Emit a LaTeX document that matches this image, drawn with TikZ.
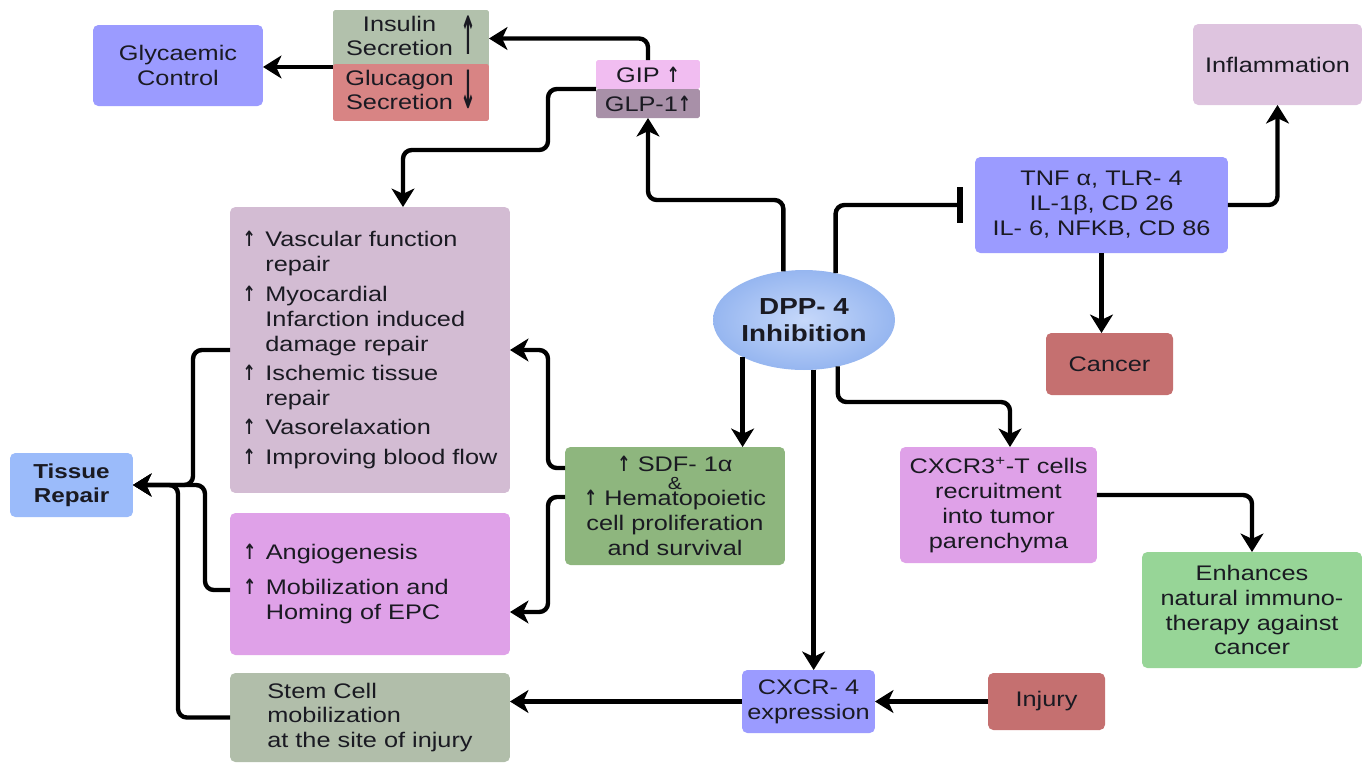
\documentclass[tikz,border=0pt]{standalone}
\usepackage{fontspec}
\setmainfont{Liberation Sans}[FakeStretch=1.2]
\newfontfamily\arrfont{DejaVu Sans}
\usetikzlibrary{arrows.meta,shapes.geometric}
\definecolor{cglyc}{HTML}{9B9BFF}
\definecolor{cins}{HTML}{B2C1AC}
\definecolor{cglu}{HTML}{D88484}
\definecolor{cgip}{HTML}{F1BDF1}
\definecolor{cglp}{HTML}{A890A8}
\definecolor{cinfl}{HTML}{DEC4DF}
\definecolor{ccan}{HTML}{C57070}
\definecolor{cvas}{HTML}{D3BCD3}
\definecolor{cang}{HTML}{DFA1E8}
\definecolor{cstem}{HTML}{B1BEAA}
\definecolor{ctis}{HTML}{9BBBFA}
\definecolor{csdf}{HTML}{8EB67E}
\definecolor{cenh}{HTML}{97D597}
\definecolor{cdppin}{HTML}{C6D8FA}
\definecolor{cdppout}{HTML}{96B6F0}
\definecolor{ctxt}{HTML}{1A1A22}
\newcommand{\uparr}{\scalebox{0.75}[1]{\arrfont\bfseries ↑}}
\newcommand{\up}{\makebox[13pt][l]{\uparr}}
\newcommand{\ind}{\hspace*{13pt}}

\begin{document}
\begin{tikzpicture}[x=0.02cm,y=-0.02cm,
  box/.style={rectangle,rounded corners=3pt,outer sep=0pt,inner sep=2pt,align=center,text=ctxt,font=\fontsize{12}{14.2}\selectfont},
  arr/.style={line width=2.5pt,rounded corners=5pt,-{Stealth[length=10.5pt,width=13pt,inset=3pt]}},
  blk/.style={line width=2.5pt,rounded corners=5pt,-{Bar[width=20pt,line width=3.5pt]},shorten >=0.24cm}]
\useasboundingbox (0,0) rectangle (1366,762);
\node[box,fill=cglyc,minimum width=3.4cm,minimum height=1.62cm] (gly) at (178,65.5) {Glycaemic\\Control};
\node[box,fill=cins,minimum width=3.12cm,minimum height=1.06cm,rounded corners=1pt] (ins) at (411,38.5) {\begin{tabular}{@{}c@{}}Insulin\\Secretion\end{tabular}\hspace{4pt}\raisebox{-6pt}{\scalebox{0.9}[2.5]{\arrfont\bfseries ↑}}};
\node[box,fill=cglu,minimum width=3.12cm,minimum height=1.1cm,rounded corners=1pt] (glu) at (411,92.5) {\begin{tabular}{@{}c@{}}Glucagon\\Secretion\end{tabular}\hspace{4pt}\raisebox{-6pt}{\scalebox{0.9}[2.5]{\arrfont\bfseries ↓}}};
\node[box,fill=cgip,minimum width=2.08cm,minimum height=0.58cm,rounded corners=1pt] (gip) at (648,74.5) {GIP \uparr};
\node[box,fill=cglp,minimum width=2.08cm,minimum height=0.58cm,rounded corners=1pt] (glp) at (648,103.5) {GLP-1\uparr};
\node[box,fill=cinfl,minimum width=3.38cm,minimum height=1.62cm] (infl) at (1277.5,64.5) {Inflammation};
\node[box,fill=cglyc,minimum width=5.06cm,minimum height=1.92cm] (tnf) at (1101.5,205) {TNF α, TLR- 4\\IL-1β, CD 26\\IL- 6, NFKB, CD 86};
\node[box,fill=ccan,minimum width=2.54cm,minimum height=1.24cm] (can) at (1109.5,364) {Cancer};
\node[ellipse,minimum width=3.64cm,minimum height=2.0cm,inner sep=0pt,outer sep=0pt,shading=radial,inner color=cdppin,outer color=cdppout,align=center,text=ctxt,font=\bfseries\fontsize{13.2}{15}\selectfont] (dpp) at (804,320) {DPP- 4\\Inhibition};
\node[box,fill=cvas,minimum width=5.6cm,minimum height=5.72cm,align=left] (vas) at (370,350) {\up Vascular function\\\ind repair\\[2.5pt]\up Myocardial\\\ind Infarction induced\\\ind damage repair\\[2.5pt]\up Ischemic tissue\\\ind repair\\[2.5pt]\up Vasorelaxation\\[2.5pt]\up Improving blood flow};
\node[box,fill=cang,minimum width=5.6cm,minimum height=2.84cm,inner xsep=0.26cm,text width=5.08cm,align=left] (ang) at (370,584) {\up Angiogenesis\\[5.5pt]\up Mobilization and\\\ind Homing of EPC};
\node[box,fill=cstem,minimum width=5.6cm,minimum height=1.78cm,align=left] (stem) at (370,717.5) {Stem Cell\\mobilization\\at the site of injury};
\node[box,fill=ctis,minimum width=2.46cm,minimum height=1.28cm,font=\bfseries\fontsize{11.5}{13.5}\selectfont] (tis) at (71.5,485) {Tissue\\Repair};
\node[box,fill=csdf,minimum width=4.4cm,minimum height=2.36cm] (sdf) at (675,506) {\uparr\ SDF- 1α\\[-4pt]{\fontsize{10}{10}\selectfont\&}\\[-5pt]\uparr\ Hematopoietic\\cell proliferation\\and survival};
\node[box,fill=cang,minimum width=3.94cm,minimum height=2.32cm] (cx3) at (998.5,505) {CXCR3\textsuperscript{+}-T cells\\recruitment\\into tumor\\parenchyma};
\node[box,fill=cenh,minimum width=4.4cm,minimum height=2.32cm] (enh) at (1252,610) {Enhances\\natural immuno-\\therapy against\\cancer};
\node[box,fill=cglyc,minimum width=2.66cm,minimum height=1.26cm] (cx4) at (808.5,701.5) {CXCR- 4\\expression};
\node[box,fill=ccan,minimum width=2.34cm,minimum height=1.14cm] (inj) at (1046.5,701.5) {Injury};
\coordinate (j1) at (193,485);
\coordinate (j2) at (205,485);
\coordinate (j3) at (178,485);
\draw[arr] (gip.north) |- (ins.east);
\draw[arr] (ins.south west) -- (gly.east |- ins.south west);
\draw[arr] (glp.north west) -| (548,150) -| ([xshift=0.66cm]vas.north);
\draw[arr] (dpp.113) |- (648,200) -- (glp.south);
\draw[blk] (dpp.56) |- (tnf.west);
\draw[arr] (tnf.east) -| (infl.south);
\draw[arr] (tnf.south) -- (tnf.south |- can.north);
\draw[arr] (dpp.306) |- ([xshift=0.23cm,yshift=0.9cm]cx3.north) -- ([xshift=0.23cm]cx3.north);
\draw[arr] (dpp.211) -- (dpp.211 |- sdf.north);
\draw[arr] (dpp.281) -- (dpp.281 |- cx4.north);
\draw[arr] ([yshift=0.76cm]sdf.west) -| (548,350) -- (vas.east);
\draw[arr] ([yshift=0.18cm]sdf.west) -| (548,612) -- ([yshift=-0.56cm]ang.east);
\draw[arr] ([yshift=0.2cm]cx3.east) -| (enh.north);
\draw[arr] (inj.west) -- (cx4.east);
\draw[arr] (cx4.west) -- (cx4.west -| stem.east);
\draw[arr] (vas.west) -| (j1) -- (tis.east);
\draw[arr] ([yshift=-0.12cm]ang.west) -| (j2) -- (tis.east);
\draw[arr] (stem.west) -| (j3) -- (tis.east);
\end{tikzpicture}
\end{document}
